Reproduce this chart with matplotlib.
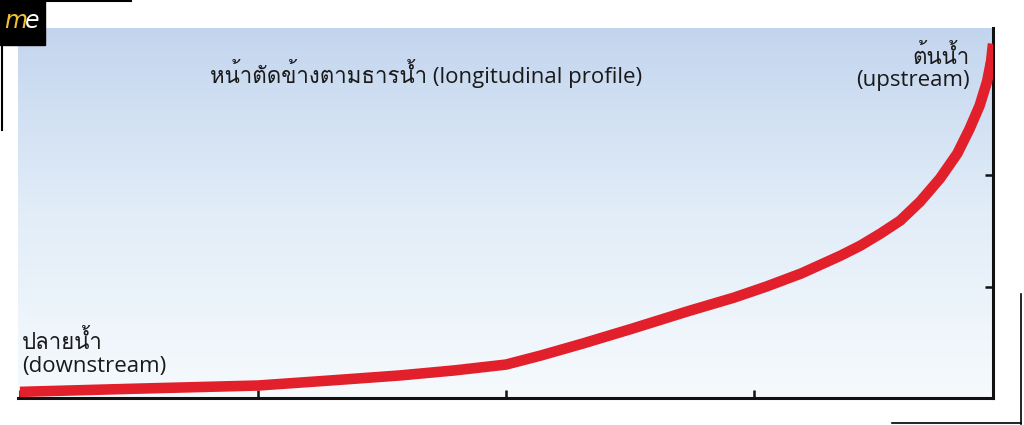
import matplotlib
matplotlib.use("Agg")
import matplotlib.pyplot as plt
from matplotlib import font_manager
from matplotlib.ft2font import FT2Font
from matplotlib.colors import LinearSegmentedColormap
from matplotlib.lines import Line2D
import numpy as np

# distance along the river (tick units) and elevation
distance = [0.04, 0.48, 1.00, 1.29, 1.57, 1.79, 2.00, 2.14, 2.31, 2.51,
            2.73, 2.92, 3.05, 3.19, 3.35, 3.43, 3.51, 3.59, 3.67, 3.75,
            3.82, 3.87, 3.91, 3.94, 3.956, 3.964]
elevation = [0.055, 0.082, 0.112, 0.157, 0.202, 0.247, 0.300, 0.381, 0.489, 0.623,
             0.776, 0.901, 1.00, 1.117, 1.278, 1.368, 1.475, 1.592, 1.762, 1.969,
             2.193, 2.417, 2.623, 2.839, 3.018, 3.179]
x_ticks = [0.04, 1, 2, 3]
y_ticks = [1, 2, 3]

title = "หน้าตัดข้างตามธารน้ำ (longitudinal profile)"
upstream_label = "ต้นน้ำ\n(upstream)"
downstream_label = "ปลายน้ำ\n(downstream)"


def find_thai_font():
    for f in font_manager.fontManager.ttflist:
        try:
            cmap = FT2Font(f.fname).get_charmap()
        except Exception:
            continue
        if ord("น") in cmap and ord("ำ") in cmap:
            return f.name
    return None


thai = find_thai_font()
families = ["Open Sans"] + ([thai] if thai else []) + ["DejaVu Sans"]
plt.rcParams["font.family"] = families

W, H = 1024, 425
fig = plt.figure(figsize=(W / 100, H / 100), dpi=100)
left, right, top, bottom = 18, 993, 28, 398
ax = fig.add_axes([left / W, 1 - bottom / H, (right - left) / W, (bottom - top) / H])

xlim = (0.032, 3.964)
ylim = (0.0, 3.32)
ax.set_xlim(*xlim)
ax.set_ylim(*ylim)

grad = LinearSegmentedColormap.from_list("bg", ["#f6fafd", "#e2edf8", "#c3d5ee"])
ax.imshow(np.linspace(0, 1, 256).reshape(-1, 1), cmap=grad, origin="lower",
          extent=[xlim[0], xlim[1], ylim[0], ylim[1]], aspect="auto", zorder=0)

ax.plot(distance, elevation, color="#e1202b", lw=7.6,
        solid_joinstyle="round", solid_capstyle="butt", zorder=3)

for s in ["left", "top"]:
    ax.spines[s].set_visible(False)
for s in ["bottom", "right"]:
    ax.spines[s].set_linewidth(2.2)
    ax.spines[s].set_color("#111111")
ax.set_xticks(x_ticks)
ax.set_yticks(y_ticks)
ax.yaxis.tick_right()
ax.tick_params(direction="in", length=6, width=1.8, color="#111111",
               labelbottom=False, labelright=False, labelleft=False)

txt_color = "#1a1a1a"
ax.text(0.806, 2.91, title, fontsize=16, color=txt_color, va="center", ha="left")
ax.text(3.87, 2.96, upstream_label, fontsize=16, color=txt_color,
        ha="right", va="center", linespacing=1.1)
ax.text(0.048, 0.40, downstream_label, fontsize=16, color=txt_color,
        ha="left", va="center", linespacing=1.1)

# logo box and corner frame lines
fig.patches.append(plt.Rectangle((0, 1 - 45 / H), 45 / W, 45 / H,
                                 transform=fig.transFigure, color="black", zorder=5))
fig.text(4 / W, 1 - 21 / H, "m", color="#f2c12e", fontsize=17, style="italic",
         family="DejaVu Sans", va="center", ha="left", zorder=6)
fig.text(25 / W, 1 - 21 / H, "e", color="white", fontsize=17, style="italic",
         family="DejaVu Sans", va="center", ha="left", zorder=6)
fig.add_artist(Line2D([0, 131 / W], [1 - 1 / H, 1 - 1 / H], color="black", lw=1.5))
fig.add_artist(Line2D([1.5 / W, 1.5 / W], [1, 1 - 130 / H], color="black", lw=1.5))
fig.add_artist(Line2D([1021 / W, 1021 / W], [1 - 294 / H, 1 - 424 / H], color="black", lw=1.2))
fig.add_artist(Line2D([892 / W, 1021 / W], [1 - 423 / H, 1 - 423 / H], color="black", lw=1.2))

fig.savefig("out.png", dpi=100)
